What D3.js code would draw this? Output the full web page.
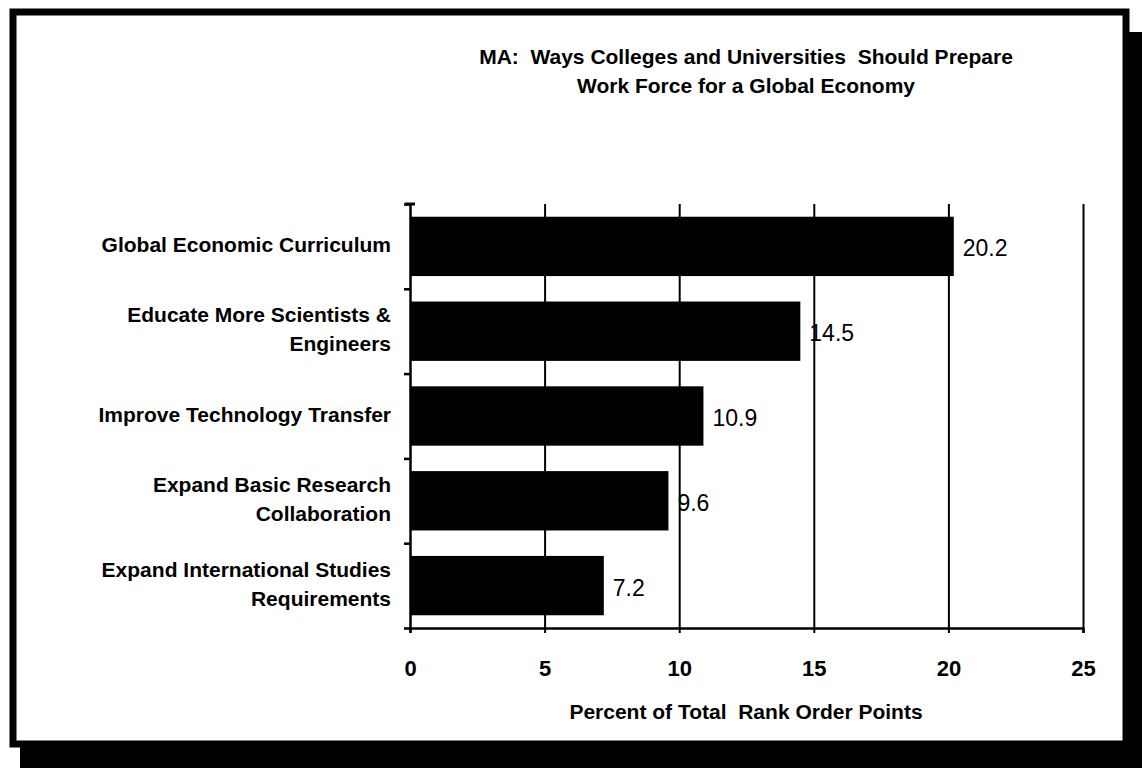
<!DOCTYPE html>
<html lang="en">
<head>
<meta charset="UTF-8">
<title>MA: Ways Colleges and Universities Should Prepare Work Force</title>
<style>
  body { margin: 0; background: #fff; }
  svg { display: block; }
  text { font-family: "Liberation Sans", Arial, sans-serif; fill: #000; white-space: pre; }
</style>
</head>
<body>
<div class="chart"></div>
<script src="https://d3js.org/d3.v7.min.js"></script>
<script>
// data
const categories = [
  ["Global Economic Curriculum"],
  ["Educate More Scientists &", "Engineers"],
  ["Improve Technology Transfer"],
  ["Expand Basic Research", "Collaboration"],
  ["Expand International Studies", "Requirements"]
];
const values = [20.2, 14.5, 10.9, 9.6, 7.2];
const xTicks = [0, 5, 10, 15, 20, 25];
const titleLines = [
  "MA:  Ways Colleges and Universities  Should Prepare",
  "Work Force for a Global Economy"
];
const xTitle = "Percent of Total  Rank Order Points";

const width = 1142, height = 768;
const plot = { left: 410, right: 1083, top: 204, bottom: 628 };

const svg = d3.select(".chart").append("svg")
  .attr("width", width)
  .attr("height", height);

// frame with drop shadow
svg.append("rect")
  .attr("x", 20).attr("y", 32)
  .attr("width", width).attr("height", height)
  .attr("fill", "#000");
svg.append("rect")
  .attr("x", 13).attr("y", 12)
  .attr("width", 1113).attr("height", 732)
  .attr("fill", "#fff")
  .attr("stroke", "#000")
  .attr("stroke-width", 7);

// title
svg.append("text")
  .attr("x", 746).attr("y", 64)
  .attr("text-anchor", "middle")
  .style("font-size", "21px").style("font-weight", "bold")
  .selectAll("tspan")
  .data(titleLines)
  .join("tspan")
  .attr("x", 746)
  .attr("dy", (d, i) => i === 0 ? 0 : 29)
  .text(d => d);

const x = d3.scaleLinear()
  .domain([0, 25])
  .range([plot.left, plot.right]);

const y = d3.scaleBand()
  .domain(d3.range(categories.length))
  .range([plot.top, plot.bottom])
  .paddingInner(0.3)
  .paddingOuter(0.15);

// boundaries between categories for the left axis ticks
const yEdge = d3.scaleLinear()
  .domain([0, categories.length])
  .range([plot.top, plot.bottom]);

// vertical grid lines
svg.append("g")
  .attr("transform", `translate(0,${plot.bottom})`)
  .call(d3.axisBottom(x).tickValues(xTicks.slice(1)).tickSize(-(plot.bottom - plot.top)).tickFormat(""))
  .call(g => g.select(".domain").remove())
  .call(g => g.selectAll("line").attr("stroke", "#000").attr("stroke-width", 2));

// bars
svg.append("g")
  .selectAll("rect")
  .data(values)
  .join("rect")
  .attr("x", x(0))
  .attr("y", (d, i) => y(i))
  .attr("width", d => x(d) - x(0))
  .attr("height", y.bandwidth())
  .attr("fill", "#000");

// value labels
svg.append("g")
  .selectAll("text")
  .data(values)
  .join("text")
  .attr("x", d => x(d) + 9)
  .attr("y", (d, i) => y(i) + y.bandwidth() / 2 + 4)
  .attr("dominant-baseline", "middle")
  .style("font-size", "23px")
  .text(d => d3.format(".1f")(d));

// x axis
svg.append("g")
  .attr("transform", `translate(0,${plot.bottom})`)
  .call(d3.axisBottom(x).tickValues(xTicks).tickSize(5).tickPadding(27).tickFormat(d3.format("d")))
  .call(g => g.select(".domain").attr("stroke", "#000").attr("stroke-width", 2.5))
  .call(g => g.selectAll("line").attr("stroke", "#000").attr("stroke-width", 2))
  .call(g => g.selectAll("text")
    .style("font-family", "'Liberation Sans', Arial, sans-serif")
    .style("font-size", "22px").style("font-weight", "bold").attr("fill", "#000"));

// y axis with ticks at category boundaries
svg.append("g")
  .attr("transform", `translate(${plot.left},0)`)
  .call(d3.axisLeft(yEdge).ticks(categories.length).tickSize(6).tickSizeOuter(0).tickFormat(""))
  .call(g => g.select(".domain").attr("stroke", "#000").attr("stroke-width", 2.5))
  .call(g => g.selectAll("line").attr("stroke", "#000").attr("stroke-width", 2.5));

// cap on top of y axis
svg.append("line")
  .attr("x1", plot.left - 5).attr("x2", plot.left + 5)
  .attr("y1", plot.top).attr("y2", plot.top)
  .attr("stroke", "#000").attr("stroke-width", 3);

// category labels
const catG = svg.append("g");
categories.forEach((lines, i) => {
  const cy = y(i) + y.bandwidth() / 2;
  const lh = 29;
  const t = catG.append("text")
    .attr("text-anchor", "end")
    .style("font-size", "21px").style("font-weight", "bold");
  lines.forEach((line, j) => {
    t.append("tspan")
      .attr("x", 391)
      .attr("y", cy + (j - (lines.length - 1) / 2) * lh)
      .attr("dominant-baseline", "middle")
      .text(line);
  });
});

// x axis title
svg.append("text")
  .attr("x", 746).attr("y", 719)
  .attr("text-anchor", "middle")
  .style("font-size", "21px").style("font-weight", "bold")
  .text(xTitle);
</script>
</body>
</html>
